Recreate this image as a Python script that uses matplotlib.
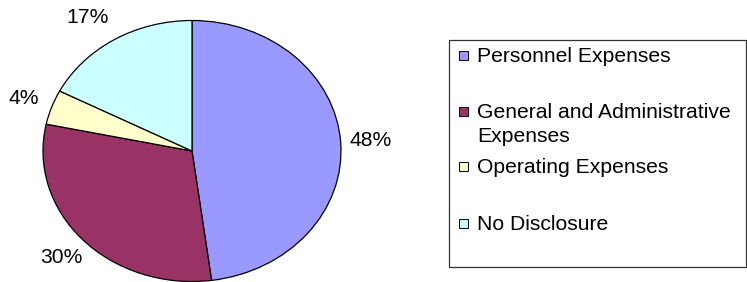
import matplotlib
matplotlib.use("Agg")
import matplotlib.pyplot as plt
from matplotlib.patches import Rectangle

categories = ["Personnel Expenses", "General and Administrative\nExpenses",
              "Operating Expenses", "No Disclosure"]
values = [47.9, 30.4, 4.3, 17.4]
colors = ["#9999FF", "#993366", "#FFFFCC", "#CCFFFF"]

plt.rcParams['font.family'] = ['Liberation Sans', 'DejaVu Sans']
FS = 15.2

W, H = 747, 282
fig = plt.figure(figsize=(W / 100, H / 100), dpi=100)

# pie axes (elliptical pie, like the reference)
ax = fig.add_axes([43 / W, 0.5 / H, 298 / W, 261 / H])
wedges, texts, autotexts = ax.pie(
    values, colors=colors, startangle=90, counterclock=False,
    wedgeprops=dict(edgecolor="black", linewidth=0.9),
    autopct=lambda p: f"{p:.0f}%", pctdistance=1.2,
    textprops=dict(fontsize=FS, color="black"))
ax.set_aspect("auto")
ax.set_xlim(-1, 1)
ax.set_ylim(-1, 1)
for t in autotexts:
    t.set_clip_on(False)
# nudge the 17% label slightly left, as in the reference
x, y = autotexts[3].get_position()
autotexts[3].set_position((x - 0.08, y))


def fx(px):
    return px / W


def fy(py):
    return 1 - py / H


# legend drawn in figure pixel coordinates
frame = Rectangle((fx(449), fy(267)), fx(746) - fx(449), fy(40) - fy(267),
                  transform=fig.transFigure, fill=False,
                  edgecolor="#333333", linewidth=0.9)
fig.add_artist(frame)

baselines = [61.5, 118, 173, 230]
for lab, col, base in zip(categories, colors, baselines):
    cy = base - 6.5
    sq = Rectangle((fx(459), fy(cy + 4.5)), fx(9), 9 / H,
                   transform=fig.transFigure, facecolor=col,
                   edgecolor="black", linewidth=0.7)
    fig.add_artist(sq)
    for i, ln in enumerate(lab.split("\n")):
        fig.text(fx(477), fy(base + 24 * i), ln, fontsize=FS,
                 va="baseline", ha="left", color="black")

fig.savefig("out.png", dpi=100)
